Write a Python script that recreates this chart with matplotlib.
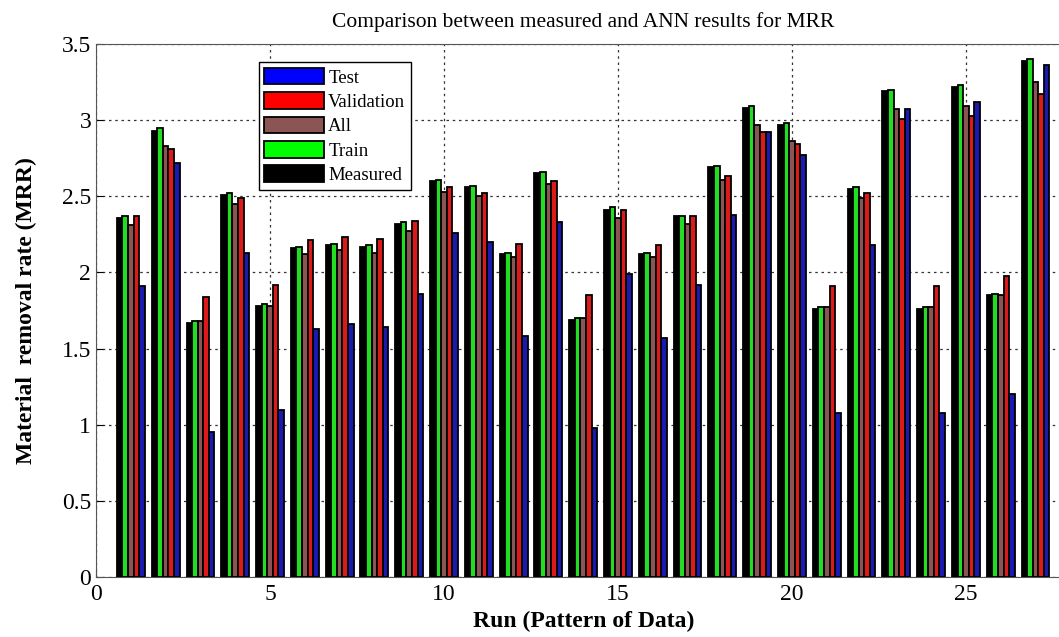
import matplotlib
matplotlib.use("Agg")
import matplotlib.pyplot as plt
import numpy as np

runs = np.arange(1, 28)

measured = [2.36, 2.93, 1.67, 2.51, 1.78, 2.16, 2.18, 2.17, 2.32, 2.60,
            2.56, 2.12, 2.65, 1.69, 2.41, 2.12, 2.37, 2.69, 3.08, 2.97,
            1.76, 2.55, 3.19, 1.76, 3.22, 1.85, 3.39]
train = [2.37, 2.95, 1.68, 2.52, 1.79, 2.17, 2.19, 2.18, 2.33, 2.61,
         2.57, 2.13, 2.66, 1.70, 2.43, 2.13, 2.37, 2.70, 3.09, 2.98,
         1.77, 2.56, 3.20, 1.77, 3.23, 1.86, 3.40]
all_ = [2.31, 2.83, 1.68, 2.45, 1.78, 2.12, 2.15, 2.13, 2.27, 2.53,
        2.50, 2.10, 2.58, 1.70, 2.36, 2.10, 2.32, 2.61, 2.97, 2.86,
        1.77, 2.49, 3.07, 1.77, 3.09, 1.85, 3.25]
validation = [2.37, 2.81, 1.84, 2.49, 1.92, 2.21, 2.23, 2.22, 2.34, 2.56,
              2.52, 2.19, 2.60, 1.85, 2.41, 2.18, 2.37, 2.63, 2.92, 2.84,
              1.91, 2.52, 3.01, 1.91, 3.03, 1.98, 3.17]
test = [1.91, 2.72, 0.95, 2.13, 1.10, 1.63, 1.66, 1.64, 1.86, 2.26,
        2.20, 1.58, 2.33, 0.98, 1.99, 1.57, 1.92, 2.38, 2.92, 2.77,
        1.08, 2.18, 3.07, 1.08, 3.12, 1.20, 3.36]

series = [
    ("Measured", measured, "#000000"),
    ("Train", train, "#22dd22"),
    ("All", all_, "#8b5555"),
    ("Validation", validation, "#dd1a1a"),
    ("Test", test, "#1a1ab0"),
]

plt.rcParams["font.family"] = ["Liberation Serif", "DejaVu Serif"]

fig = plt.figure(figsize=(10.59, 6.37), dpi=100)
ax = fig.add_axes([0.0907, 0.094, 0.92, 0.837])

w = 0.16
for i, (name, vals, col) in enumerate(series):
    ax.bar(runs + (i - 2) * w, vals, width=w, color=col,
           edgecolor="black", linewidth=1.3, zorder=3)

ax.set_xlim(0, 28)
ax.set_ylim(0, 3.5)
ax.set_xticks([0, 5, 10, 15, 20, 25])
ax.set_yticks(np.arange(0, 3.51, 0.5))
ax.set_yticklabels(["0", "0.5", "1", "1.5", "2", "2.5", "3", "3.5"])
ax.tick_params(direction="in", labelsize=17, length=5)
ax.tick_params(axis="x", pad=5)
ax.grid(True, color="#333333", linestyle=(0, (2, 3)), linewidth=0.9, zorder=0)
for s in ax.spines.values():
    s.set_color("#555555")

ax.set_title("Comparison between measured and ANN results for MRR",
             fontsize=15.5, pad=12)
ax.set_xlabel("Run (Pattern of Data)", fontsize=17, fontweight="bold", labelpad=4)
ax.set_ylabel("Material  removal rate (MRR)", fontsize=17, fontweight="bold",
              labelpad=18)

order = ["Test", "Validation", "All", "Train", "Measured"]
leg_colors = {"Test": "#0000ff", "Validation": "#ff0000", "All": "#8b5555",
              "Train": "#00ff00", "Measured": "#000000"}
handles = [plt.Rectangle((0, 0), 1, 1, facecolor=leg_colors[n],
                         edgecolor="black", linewidth=1.3) for n in order]
leg = ax.legend(handles, order, loc="upper left", bbox_to_anchor=(0.167, 0.966),
                borderaxespad=0, fontsize=13.5, fancybox=False, framealpha=1,
                edgecolor="black", handlelength=3.2, handleheight=1.0,
                labelspacing=0.3, handletextpad=0.2, borderpad=0.3)
leg.set_zorder(5)

fig.savefig("out.png", dpi=100)
